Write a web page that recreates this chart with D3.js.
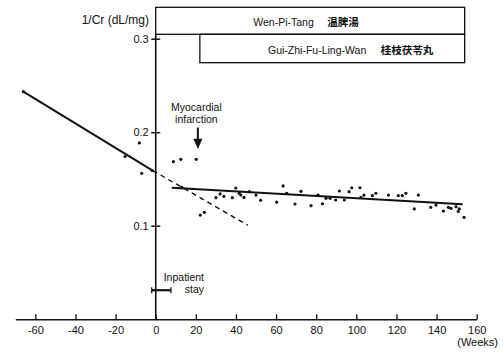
<!DOCTYPE html>
<html>
<head>
<meta charset="utf-8">
<script src="https://cdn.jsdelivr.net/npm/d3@7"></script>
<style>
body{margin:0;background:#fff;}
text{font-family:"Liberation Sans",Arial,sans-serif;fill:#111;}
.cjk{font-family:"Noto Sans CJK JP","Noto Sans CJK SC",sans-serif;}
</style>
</head>
<body>
<script>
var w=504;
var h=355;

// 1/Cr measurements (week, dL/mg)
var weeks = [-66,-15.3,-8.2,-7.0,-1.8,
	8.8,12.5,20.2,13.0,22.2,24.2,30.0,32.1,34.0,38.2,39.9,41.6,42.4,44.0,46.7,
	50.0,52.3,60.3,63.5,65.3,69.4,72.4,77.4,80.9,83.1,84.9,86.9,89.7,91.5,94.0,
	96.4,97.7,101.8,102.3,103.8,108.0,109.7,116.0,120.9,122.9,124.7,128.9,130.9,
	137.1,139.7,143.4,145.9,147.2,149.7,151.3,150.8,153.7];
var crInv = [0.2433,0.174,0.1885,0.156,0.159,
	0.1685,0.171,0.171,0.141,0.1114,0.1143,0.130,0.134,0.1314,0.130,0.1403,0.1347,0.1328,0.1302,0.1364,
	0.1328,0.1272,0.1253,0.1425,0.1347,0.1232,0.1368,0.1214,0.1328,0.1235,0.1293,0.1293,0.1275,0.1371,0.1275,
	0.1364,0.1406,0.1406,0.1304,0.1328,0.1321,0.1347,0.1328,0.1321,0.1321,0.1347,0.1179,0.1328,
	0.1197,0.1221,0.1157,0.1197,0.1186,0.1203,0.1179,0.1152,0.109];

// regression lines
var preWeeks = [-66,-1.5];
var preVals = [0.2433,0.159];
var extWeeks = [-1.5,46];
var extVals = [0.159,0.1005];
var postWeeks = [8,153];
var postVals = [0.1406,0.1229];

var xTicks = [-60,-40,-20,0,20,40,60,80,100,120,140,160];
var yTicks = [0.1,0.2,0.3];

// treatment periods
var drugNames = ["Wen-Pi-Tang","Gui-Zhi-Fu-Ling-Wan"];
var drugKanji = ["温脾湯","桂枝茯苓丸"];
var drugStart = [0,22];
var drugEnd = [154,154];

var stayStart = -2, stayEnd = 7.6;
var miWeek = 21;

var x = d3.scaleLinear().domain([-70,160]).range([15.3,476.7]);
var y = d3.scaleLinear().domain([0,0.3]).range([319.2,38.7]);

var svg = d3.select("body")
	.append("svg")
		.attr("width",w)
		.attr("height",h);

// x axis
var xAxis = svg.append("g")
	.attr("transform","translate(0,"+y(0)+")")
	.call(d3.axisBottom(x)
		.tickValues(xTicks)
		.tickSizeInner(-5)
		.tickSizeOuter(0)
		.tickPadding(7)
		.tickFormat(function(d){return String(d);}));
xAxis.select(".domain").attr("stroke","#111").attr("stroke-width",1.5);
xAxis.selectAll(".tick line").attr("stroke","#111").attr("stroke-width",1.3);
xAxis.selectAll(".tick text").attr("font-size",11).attr("fill","#111")
	.attr("font-family","Liberation Sans, Arial, sans-serif");

svg.append("text")
	.attr("x",498)
	.attr("y",346)
	.attr("text-anchor","end")
	.attr("font-size",11)
	.text("(Weeks)");

// y axis
var yAxis = svg.append("g")
	.attr("transform","translate("+x(0)+",0)")
	.call(d3.axisLeft(y)
		.tickValues(yTicks)
		.tickSizeInner(4.5)
		.tickSizeOuter(0)
		.tickPadding(2.5)
		.tickFormat(d3.format(".1f")));
yAxis.select(".domain").remove();
yAxis.selectAll(".tick line").attr("x1",4.5).attr("stroke","#111").attr("stroke-width",1.5);
yAxis.selectAll(".tick text").attr("font-size",11).attr("fill","#111")
	.attr("font-family","Liberation Sans, Arial, sans-serif");
yAxis.append("line")
	.attr("x1",0).attr("x2",0)
	.attr("y1",y(0)).attr("y2",34.3)
	.attr("stroke","#111")
	.attr("stroke-width",1.6);

svg.append("text")
	.attr("x",149)
	.attr("y",23.5)
	.attr("text-anchor","end")
	.attr("font-size",12)
	.text("1/Cr (dL/mg)");

// treatment boxes
var boxTop = [7.3,34.3];
var boxBottom = [34.3,62.7];
var labelX = [253.3,268];
var labelY = [25.5,53.5];
var kanjiX = [327.3,380.7];

svg.selectAll("rect.drug")
	.data(drugNames)
	.enter()
	.append("rect")
		.attr("class","drug")
		.attr("x",function(d,i){return x(drugStart[i]);})
		.attr("y",function(d,i){return boxTop[i];})
		.attr("width",function(d,i){return x(drugEnd[i])-x(drugStart[i]);})
		.attr("height",function(d,i){return boxBottom[i]-boxTop[i];})
		.attr("fill","none")
		.attr("stroke","#111")
		.attr("stroke-width",1.3);

svg.selectAll("text.drug")
	.data(drugNames)
	.enter()
	.append("text")
		.attr("class","drug")
		.attr("x",function(d,i){return labelX[i];})
		.attr("y",function(d,i){return labelY[i];})
		.attr("font-size",10.5)
		.text(function(d){return d;});

svg.selectAll("text.kanji")
	.data(drugKanji)
	.enter()
	.append("text")
		.attr("class","kanji cjk")
		.attr("x",function(d,i){return kanjiX[i];})
		.attr("y",function(d,i){return labelY[i];})
		.attr("font-size",10.5)
		.attr("font-weight","bold")
		.text(function(d){return d;});

// regression lines
var line = d3.line()
	.x(function(d){return x(d[0]);})
	.y(function(d){return y(d[1]);});

svg.append("path")
	.attr("d",line(d3.zip(preWeeks,preVals)))
	.attr("fill","none")
	.attr("stroke","#111")
	.attr("stroke-width",2);
svg.append("path")
	.attr("d",line(d3.zip(extWeeks,extVals)))
	.attr("fill","none")
	.attr("stroke","#111")
	.attr("stroke-width",1.4)
	.attr("stroke-dasharray","5,4");
svg.append("path")
	.attr("d",line(d3.zip(postWeeks,postVals)))
	.attr("fill","none")
	.attr("stroke","#111")
	.attr("stroke-width",2);

// points
svg.selectAll("circle")
	.data(weeks)
	.enter()
	.append("circle")
		.attr("cx",function(d){return x(d);})
		.attr("cy",function(d,i){return y(crInv[i]);})
		.attr("r",1.6)
		.attr("fill","#111");

// myocardial infarction arrow
var ax = x(miWeek);
svg.append("line")
	.attr("x1",ax).attr("x2",ax)
	.attr("y1",y(0.205)).attr("y2",y(0.192))
	.attr("stroke","#111")
	.attr("stroke-width",2);
svg.append("path")
	.attr("d","M"+(ax-4.5)+","+y(0.193)+"L"+(ax+4.5)+","+y(0.193)+"L"+ax+","+y(0.182)+"Z")
	.attr("fill","#111");
svg.append("text")
	.attr("x",ax-1.5)
	.attr("y",110.5)
	.attr("text-anchor","middle")
	.attr("font-size",10.5)
	.text("Myocardial");
svg.append("text")
	.attr("x",ax-1.5)
	.attr("y",123)
	.attr("text-anchor","middle")
	.attr("font-size",10.5)
	.text("infarction");

// inpatient stay
var sy = y(0.031);
svg.append("line")
	.attr("x1",x(stayStart)).attr("x2",x(stayEnd))
	.attr("y1",sy).attr("y2",sy)
	.attr("stroke","#111")
	.attr("stroke-width",2.2);
svg.selectAll("line.cap")
	.data([stayStart,stayEnd])
	.enter()
	.append("line")
		.attr("class","cap")
		.attr("x1",function(d){return x(d);})
		.attr("x2",function(d){return x(d);})
		.attr("y1",sy-3).attr("y2",sy+3)
		.attr("stroke","#111")
		.attr("stroke-width",1.2);
svg.append("text")
	.attr("x",204)
	.attr("y",281)
	.attr("text-anchor","end")
	.attr("font-size",10.5)
	.text("Inpatient");
svg.append("text")
	.attr("x",204)
	.attr("y",292.5)
	.attr("text-anchor","end")
	.attr("font-size",10.5)
	.text("stay");
</script>
</body>
</html>
